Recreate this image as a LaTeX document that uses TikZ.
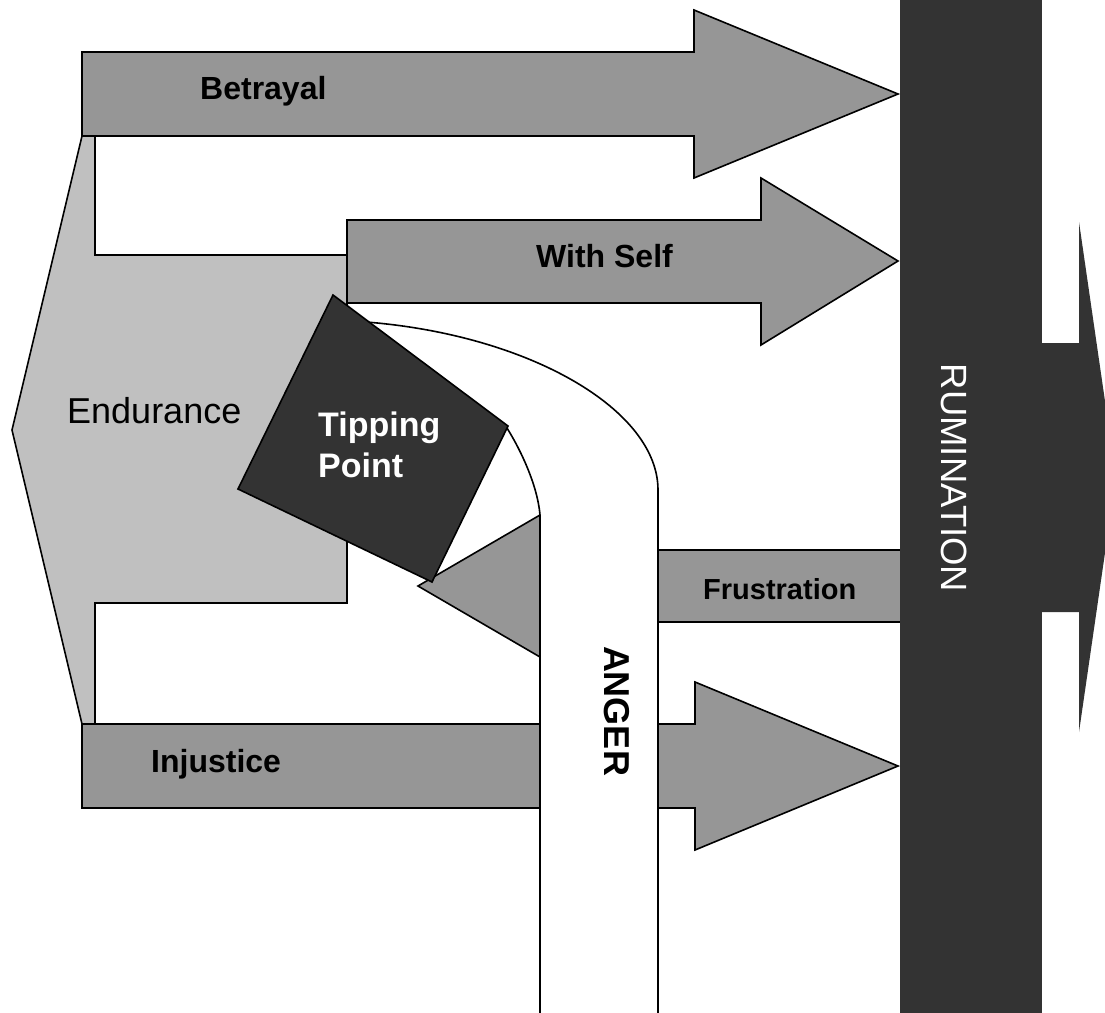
\documentclass[tikz,border=0pt]{standalone}
\usepackage{fontspec}
\setmainfont{Liberation Sans}

\definecolor{shaftgray}{HTML}{969696}
\definecolor{paleg}{HTML}{C0C0C0}
\definecolor{deepg}{HTML}{333333}

\tikzset{
  outline/.style={draw=black, line width=1.6pt, line join=miter},
  greyarrow/.style={outline, fill=shaftgray},
  boldlabel/.style={inner sep=0pt, anchor=base west, font=\fontsize{32}{38}\selectfont\bfseries},
  plainlabel/.style={inner sep=0pt, font=\fontsize{36}{42}\selectfont},
}

\begin{document}
\begin{tikzpicture}[x=1pt, y=-1pt]
\useasboundingbox (0,0) rectangle (1105,1012);
\clip (0,0) rectangle (1105,1012);

% Endurance: left-pointing bracket shape
\draw[outline, fill=paleg]
  (82,136) -- (12,430) -- (82,724) -- (95,724) -- (95,603) -- (347,603)
  -- (347,255) -- (95,255) -- (95,136) -- cycle;

% Betrayal arrow
\draw[greyarrow]
  (82,52) -- (694,52) -- (694,10) -- (898,94) -- (694,178) -- (694,136) -- (82,136) -- cycle;

% With Self arrow
\draw[greyarrow]
  (347,220) -- (761,220) -- (761,178) -- (898,261) -- (761,345) -- (761,303) -- (347,303) -- cycle;

% Injustice arrow
\draw[greyarrow]
  (82,724) -- (695,724) -- (695,682) -- (898,766) -- (695,850) -- (695,808) -- (82,808) -- cycle;

% Frustration arrow, pointing back to the left
\draw[greyarrow]
  (906,550) -- (540,550) -- (540,515) -- (418,586) -- (540,657) -- (540,622) -- (906,622) -- cycle;

% ANGER: bent white band
\fill[white]
  (540,1015) -- (540,515) .. controls (537,480) and (515,440) .. (505,425)
  -- (420,440) -- (366,322) .. controls (530,335) and (658,410) .. (658,490)
  -- (658,1015) -- cycle;
\draw[outline] (540,1015) -- (540,515) .. controls (537,480) and (515,440) .. (505,425);
\draw[outline] (366,322) .. controls (530,335) and (658,410) .. (658,490) -- (658,1015);

% Tipping Point block
\draw[outline, fill=deepg]
  (333,295) -- (508,426) -- (432,582) -- (238,489) -- cycle;

% Rumination bar with the broad arrow behind it
\fill[deepg]
  (1040,343) -- (1079,343) -- (1079,222) -- (1116,477) -- (1079,732) -- (1079,612) -- (1040,612) -- cycle;
\fill[deepg] (900,-5) rectangle (1042,1017);

% Labels
\node[boldlabel] (betrayal) at (200,99) {Betrayal};
\node[boldlabel] (withself) at (536,267) {With Self};
\node[boldlabel] (injustice) at (151,772) {Injustice};
\node[boldlabel, font=\fontsize{29}{34}\selectfont\bfseries] (frustration) at (703,599) {Frustration};
\node[boldlabel, text=white, font=\fontsize{34}{40}\selectfont\bfseries] (tipping) at (318,436) {Tipping};
\node[boldlabel, text=white, font=\fontsize{34}{40}\selectfont\bfseries] (point) at (318,477) {Point};
\node[plainlabel, anchor=base west] (endurance) at (67,423) {Endurance};
\node[inner sep=0pt, rotate=-90, font=\fontsize{36}{42}\selectfont\bfseries] (anger) at (616.5,711) {ANGER};
\node[inner sep=0pt, rotate=-90, text=white, font=\fontsize{36.5}{42}\selectfont] (rumination) at (954.5,478) {RUMINATION};
\end{tikzpicture}
\end{document}
